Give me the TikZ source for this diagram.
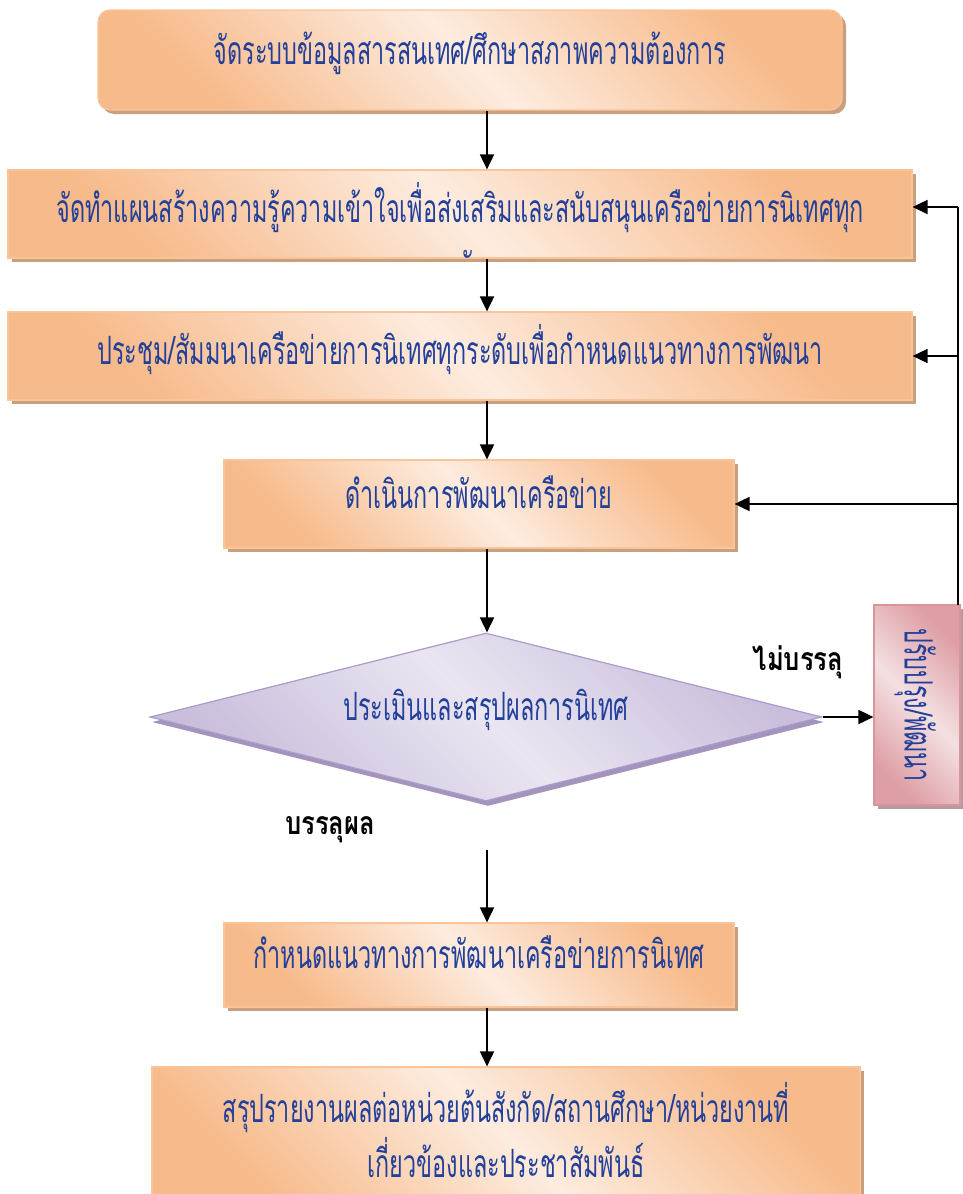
\documentclass[tikz,border=0pt]{standalone}
\usepackage{fontspec}
\newfontfamily\thai[Script=Thai,FakeStretch=0.6]{Loma}
\newfontfamily\thailab[Script=Thai,FakeStretch=0.8]{Loma}
\usetikzlibrary{arrows.meta,shapes.geometric,shadows}
\definecolor{txtblue}{HTML}{22409A}
\definecolor{ogdark}{HTML}{F7BA8A}
\definecolor{oglight}{HTML}{FDECDF}
\definecolor{ogborder}{HTML}{F9C49A}
\definecolor{ogshadow}{HTML}{C9A07E}
\definecolor{lvdark}{HTML}{C9BEDC}
\definecolor{lvlight}{HTML}{EAE5F1}
\definecolor{lvborder}{HTML}{A99BC9}
\definecolor{lvshadow}{HTML}{A394BE}
\definecolor{rddark}{HTML}{DE9EA5}
\definecolor{rdlight}{HTML}{F4E0E1}
\definecolor{rdborder}{HTML}{D9959B}
\definecolor{rdshadow}{HTML}{B39A9C}
\newcommand{\up}[1]{\raisebox{24pt}{#1}}
\tikzset{
  x=1pt,y=1pt,
  thaitext/.style={text=txtblue, font=\thai\fontsize{39}{48}\selectfont},
  obox/.style={rectangle, draw=ogborder, line width=1.2pt,
    top color=ogdark, bottom color=ogdark, middle color=oglight, shading angle=135,
    general shadow={fill=ogshadow, shadow xshift=4pt, shadow yshift=-4pt},
    inner sep=0pt, thaitext, align=center},
  arr/.style={-{Triangle[length=15pt,width=14pt]}, line width=1.8pt},
  plainline/.style={line width=1.8pt},
  lab/.style={font=\thailab\bfseries\fontsize{32}{36}\selectfont, text=black, inner sep=0pt}
}
\begin{document}
\begin{tikzpicture}
\useasboundingbox (0,0) rectangle (963,-1194);
\clip (0,0) rectangle (963,-1194);
\coordinate (ax) at (487,0);
% boxes
\node[obox, rounded corners=12pt, minimum width=744pt, minimum height=100pt] (b1) at (470,-60) {\up{จัดระบบข้อมูลสารสนเทศ/ศึกษาสภาพความต้องการ}};
\node[obox, minimum width=904pt, minimum height=88pt] (b2) at (460,-214) {\up{จัดทำแผนสร้างความรู้ความเข้าใจเพื่อส่งเสริมและสนับสนุนเครือข่ายการนิเทศทุก}};
\begin{scope}
\clip ([yshift=1pt]b2.south west) rectangle (b2.north east);
\node[thaitext, anchor=base, inner sep=0pt] (b2t) at (460,-281) {ระดับ};
\end{scope}
\node[obox, minimum width=904pt, minimum height=88pt] (b3) at (460,-356) {\up{ประชุม/สัมมนาเครือข่ายการนิเทศทุกระดับเพื่อกำหนดแนวทางการพัฒนา}};
\node[obox, minimum width=510pt, minimum height=88pt] (b4) at (479,-504) {\up{ดำเนินการพัฒนาเครือข่าย}};
\node[diamond, aspect=4, draw=lvborder, line width=1.2pt, top color=lvdark, bottom color=lvdark, middle color=lvlight, shading angle=135,
  general shadow={fill=lvshadow, shadow xshift=2pt, shadow yshift=-5pt},
  minimum width=672pt, minimum height=168pt, inner sep=0pt, thaitext] (dia) at (486,-717) {\up{ประเมินและสรุปผลการนิเทศ}};
\node[rectangle, draw=rdborder, line width=1.2pt, top color=rddark, bottom color=rddark, middle color=rdlight, shading angle=135,
  general shadow={fill=rdshadow, shadow xshift=4pt, shadow yshift=-4pt},
  minimum width=86pt, minimum height=200pt, inner sep=0pt] (red) at (917,-705) {};
\node[rotate=-90, thaitext, inner sep=0pt] (redt) at (915,-705) {ปรับปรุง/พัฒนา};
\node[obox, minimum width=510pt, minimum height=84pt] (b6) at (479,-965) {\raisebox{25pt}{กำหนดแนวทางการพัฒนาเครือข่ายการนิเทศ}};
\node[obox, minimum width=708pt, minimum height=140pt] (b7) at (506,-1137) {\raisebox{19pt}{\begin{tabular}{@{}c@{}}สรุปรายงานผลต่อหน่วยต้นสังกัด/สถานศึกษา/หน่วยงานที่\\เกี่ยวข้องและประชาสัมพันธ์\end{tabular}}};
% labels
\node[lab] (l1) at (798,-662) {ไม่บรรลุ};
\node[lab] (l2) at (330,-830) {บรรลุผล};
% connectors
\draw[arr] (b1.south -| ax) -- (b2.north -| ax);
\draw[arr] (b2.south -| ax) -- (b3.north -| ax);
\draw[arr] (b3.south -| ax) -- (b4.north -| ax);
\draw[arr] (b4.south -| ax) -- (dia.north -| ax);
\coordinate (ok) at (487,-850);
\draw[arr] (ok) -- (b6.north -| ok);
\draw[arr] (b6.south -| ok) -- (b7.north -| ok);
\draw[arr] (dia.east) -- (dia.east -| red.west);
\coordinate (rtop) at (958,-207);
\coordinate (rbot) at (958,-605);
\draw[plainline] (rbot) -- (rtop);
\draw[arr] (rtop) -- (b2.east |- rtop);
\draw[arr] (b3.east -| rtop) -- (b3.east);
\draw[arr] (b4.east -| rtop) -- (b4.east);
\end{tikzpicture}
\end{document}
